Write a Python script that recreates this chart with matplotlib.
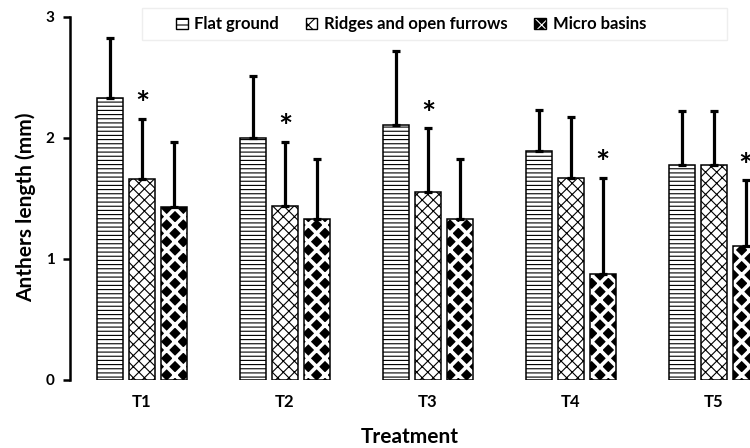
import numpy as np
import matplotlib
matplotlib.use("Agg")
import matplotlib.pyplot as plt
from matplotlib.patches import Patch, Rectangle

plt.rcParams["font.family"] = "Lato"
plt.rcParams["font.weight"] = "bold"
plt.rcParams["axes.labelweight"] = "bold"
plt.rcParams["hatch.linewidth"] = 0.8

treatments = ["T1", "T2", "T3", "T4", "T5"]
series = ["Flat ground", "Ridges and open furrows", "Micro basins"]

flat = [2.33, 2.00, 2.11, 1.89, 1.78]
flat_err = [0.50, 0.51, 0.61, 0.34, 0.44]
ridges = [1.66, 1.44, 1.55, 1.67, 1.78]
ridges_err = [0.50, 0.53, 0.53, 0.50, 0.44]
micro = [1.43, 1.33, 1.33, 0.88, 1.11]
micro_err = [0.54, 0.50, 0.50, 0.79, 0.54]

# which bar of each treatment carries the significance star (0 flat, 1 ridges, 2 micro)
star_series = [1, 1, 1, 2, 2]

fig = plt.figure(figsize=(7.5, 4.48), dpi=100)
ax = fig.add_axes([0.0933, 0.1518, 0.9067, 0.8103])

x = np.arange(len(treatments))
width = 0.182
step = 0.221

values = [flat, ridges, micro]
errors = [flat_err, ridges_err, micro_err]

ax.bar(x - step, flat, width, facecolor="white", edgecolor="black",
       hatch="----", linewidth=1.1)
ax.bar(x, ridges, width, facecolor="white", edgecolor="black",
       hatch="xxx", linewidth=1.1)
# micro basins: black face with thick white hatch, then a black outline on top
dots = ax.bar(x + step, micro, width, facecolor="black", edgecolor="white",
              hatch="xx", linewidth=0)
for b in dots:
    if hasattr(b, "set_hatch_linewidth"):
        b.set_hatch_linewidth(2.6)
ax.bar(x + step, micro, width, facecolor="none", edgecolor="black",
       linewidth=1.1)

for i, (vals, errs) in enumerate(zip(values, errors)):
    ax.errorbar(x + (i - 1) * step, vals, yerr=[np.zeros(len(vals)), errs],
                fmt="none", ecolor="black", elinewidth=2.3, capsize=3,
                capthick=2.3)

for t, s in enumerate(star_series):
    top = values[s][t] + errors[s][t]
    ax.annotate("*", (x[t] + (s - 1) * step, top), xytext=(0, -1),
                textcoords="offset points", ha="center", va="bottom",
                fontsize=24, fontweight="bold", annotation_clip=False)

ax.set_xlim(-0.503, 4.252)
ax.set_ylim(0, 3)
ax.set_yticks([0, 1, 2, 3])
ax.set_xticks(x)
ax.set_xticklabels(treatments, fontsize=12)
ax.tick_params(axis="x", length=0, pad=10)
ax.tick_params(axis="y", length=5, width=1.8, labelsize=11, pad=6)
for side in ["top", "right", "bottom"]:
    ax.spines[side].set_visible(False)
ax.spines["left"].set_linewidth(1.8)

ax.set_ylabel("Anthers length (mm)", fontsize=15)
ax.yaxis.set_label_coords(-0.05, 0.475)
ax.set_xlabel("Treatment", fontsize=15, labelpad=12)

# legend
fig.add_artist(Rectangle((0.1893, 0.9107), 0.78, 0.0714, transform=fig.transFigure,
                         facecolor="none", edgecolor="#eeeeee", linewidth=1))
handles = [
    Patch(facecolor="white", edgecolor="black", hatch="---", linewidth=1),
    Patch(facecolor="white", edgecolor="black", hatch="xx", linewidth=1),
    (Patch(facecolor="black", edgecolor="white", hatch="xx", linewidth=0),
     Patch(facecolor="none", edgecolor="black", linewidth=1)),
]
fig.legend(handles, series, loc="center", bbox_to_anchor=(0.548, 0.946),
           ncol=3, frameon=False, fontsize=12, handlelength=0.7,
           handleheight=0.7, handletextpad=0.4, columnspacing=1.6)

fig.savefig("out.png", dpi=100)
